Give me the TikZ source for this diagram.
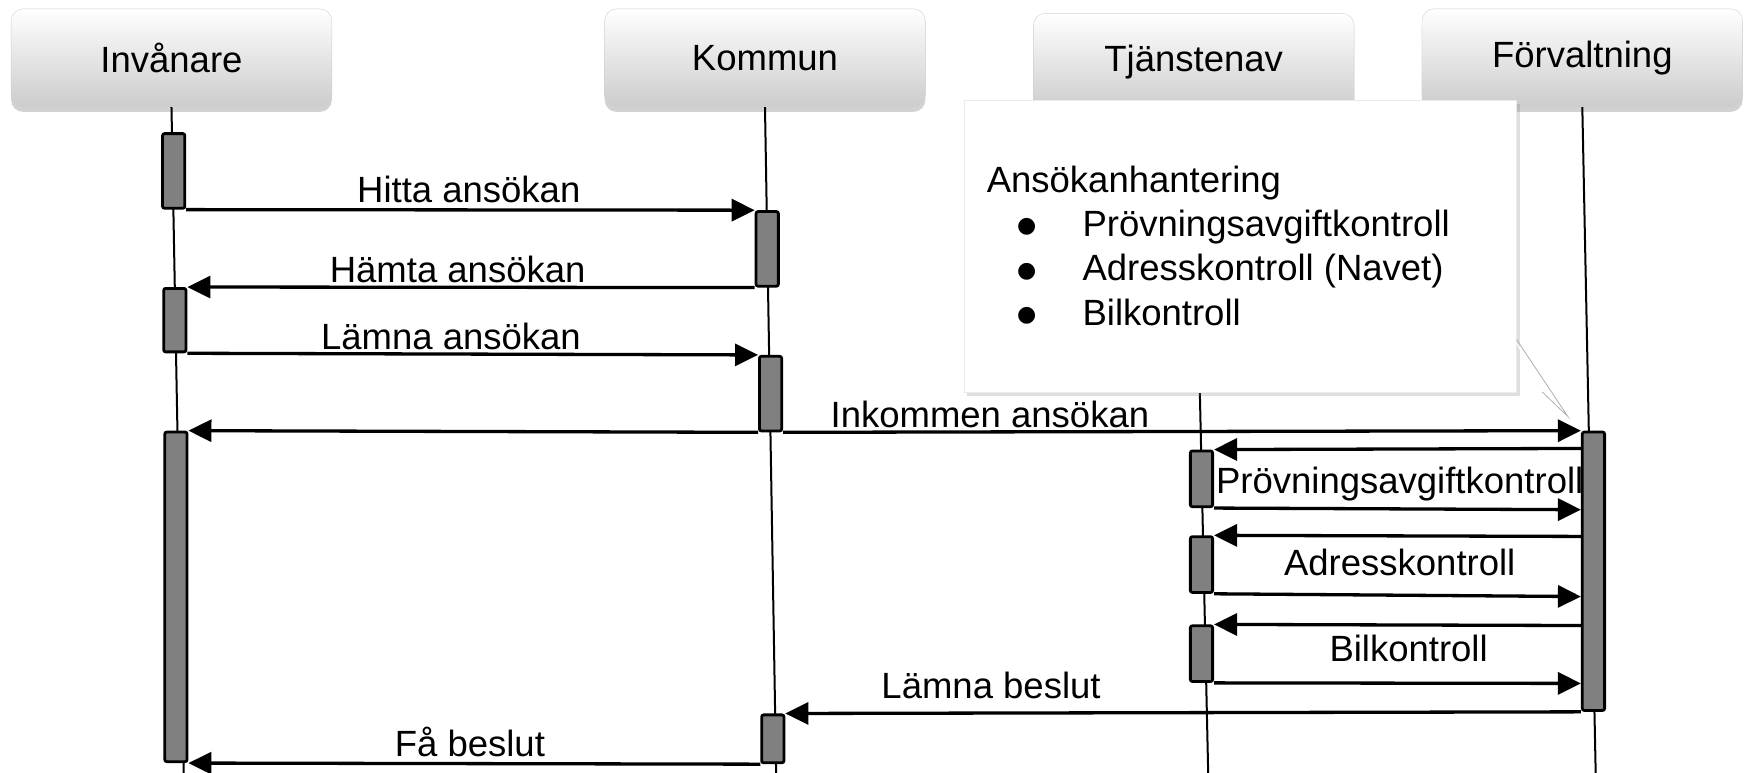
\documentclass[tikz,border=0pt]{standalone}
\usepackage{fontspec}
\setmainfont{Liberation Sans}
\newfontfamily\bulletfont{DejaVu Sans}
\usetikzlibrary{arrows.meta,shadows,calc}
\def\upx{1.1135pt}
\begin{document}
\begin{tikzpicture}[x=1.1135pt,y=-1.1135pt,
  hdr/.style={rounded corners=12pt, top color=white, bottom color=black!20, draw=black!18,
    minimum width={288*\upx}, minimum height={88*\upx}, inner sep=0pt,
    font=\fontsize{36.5}{44}\selectfont,
    drop shadow={shadow xshift=0pt, shadow yshift=-5pt, opacity=0.35}},
  act/.style={draw=black, line width=2.8pt, fill=black!50, rounded corners=2pt,
    minimum width={20*\upx}, inner sep=0pt},
  life/.style={line width=2pt, black},
  msg/.style={line width=3.3pt, -{Triangle[length=23pt,width=22pt]}},
  lbl/.style={font=\fontsize{36.5}{44}\selectfont, anchor=base, inner sep=0pt},
  notebox/.style={fill=white, draw=black!8, minimum width={496*\upx}, minimum height={262*\upx},
    drop shadow={shadow xshift=3pt, shadow yshift=-4pt, opacity=0.25}},
  bul/.style={font=\bulletfont\fontsize{22}{26}\selectfont, anchor=base, inner sep=0pt}
]
\useasboundingbox (0,0) rectangle (1568,694);
\fill[white] (0,0) rectangle (1568,694);

% headers
\node[hdr] (inv) at (154,52) {Invånare};
\node[hdr] (kom) at (687,52) {Kommun};
\node[hdr] (tjn) at (1072,56) {Tjänstenav};
\node[hdr] (forv) at (1421,52) {Förvaltning};

% lifeline ends
\coordinate (invEnd) at (165,694);
\coordinate (komEnd) at (697,694);
\coordinate (tjnEnd) at (1085,694);
\coordinate (forvEnd) at (1433,694);

\draw[life] (inv.south) -- (invEnd);
\draw[life] (kom.south) -- (komEnd);
\draw[life] (tjn.south) -- (tjnEnd);
\draw[life] (forv.south) -- (forvEnd);

% activations
\node[act, minimum height={67*\upx}] (A1) at (156,153.5) {};
\node[act, minimum height={67*\upx}] (K1) at (689,223.5) {};
\node[act, minimum height={57*\upx}] (A2) at (157,287.5) {};
\node[act, minimum height={67*\upx}] (K2) at (692,353.5) {};
\node[act, minimum height={296*\upx}] (A3) at (158,536) {};
\node[act, minimum height={250*\upx}] (F1) at (1431,513) {};
\node[act, minimum height={50*\upx}] (T1) at (1079,430) {};
\node[act, minimum height={50*\upx}] (T2) at (1079,507) {};
\node[act, minimum height={50*\upx}] (T3) at (1079,587) {};
\node[act, minimum height={43*\upx}] (K3) at (694,663.5) {};

% messages
\draw[msg] (A1.south east) -- (K1.north west);
\draw[msg] (K1.south west) -- (A2.north east);
\draw[msg] (A2.south east) -- (K2.north west);
\draw[msg] (K2.south west) -- (A3.north east);
\draw[msg] (K2.south east) -- (F1.north west);
\draw[msg] ($(F1.north west)+(0,16)$) -- (T1.north east);
\draw[msg] (T1.south east) -- ($(F1.north west)+(0,71)$);
\draw[msg] ($(F1.north west)+(0,95)$) -- (T2.north east);
\draw[msg] (T2.south east) -- ($(F1.north west)+(0,149)$);
\draw[msg] ($(F1.north west)+(0,175)$) -- (T3.north east);
\draw[msg] (T3.south east) -- ($(F1.north west)+(0,227)$);
\draw[msg] (F1.south west) -- (K3.north east);
\draw[msg] (K3.south west) -- (A3.south east);

% callout
\node[notebox] (note) at (1114,221) {};
\coordinate (noteTip) at (1408,374);
\fill[white] (1360,305) -- (noteTip) -- (1385,351) -- cycle;
\draw[black!30, line width=0.8pt] (1362,305) -- (noteTip) -- (1385,352);

\node[lbl, anchor=base west] (nTitle) at (886,173) {Ansökanhantering};
\node[bul] (b1) at (922,209) {●};
\node[bul] (b2) at (922,249) {●};
\node[bul] (b3) at (922,289) {●};
\node[lbl, anchor=base west] (n1) at (972,212) {Prövningsavgiftkontroll};
\node[lbl, anchor=base west] (n2) at (972,252) {Adresskontroll (Navet)};
\node[lbl, anchor=base west] (n3) at (972,292) {Bilkontroll};

% labels
\node[lbl] (lHitta) at (421,182) {Hitta ansökan};
\node[lbl] (lHamta) at (411,254) {Hämta ansökan};
\node[lbl] (lLamna) at (405,314) {Lämna ansökan};
\node[lbl] (lInk) at (889,384) {Inkommen ansökan};
\node[lbl] (lProv) at (1257,443) {Prövningsavgiftkontroll};
\node[lbl] (lAdr) at (1257,517) {Adresskontroll};
\node[lbl] (lBil) at (1265,594) {Bilkontroll};
\node[lbl] (lBeslut) at (890,627) {Lämna beslut};
\node[lbl] (lFa) at (422,679) {Få beslut};
\end{tikzpicture}
\end{document}
